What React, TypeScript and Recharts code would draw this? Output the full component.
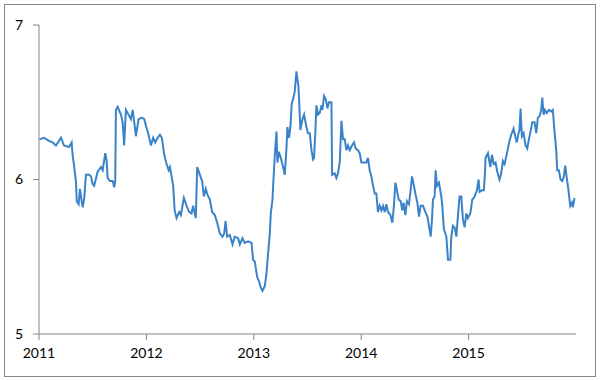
import React from 'react';
import { LineChart, Line, XAxis, YAxis } from 'recharts';

// decimal year of each observation
const dates = [
  2011.003, 2011.047, 2011.093, 2011.127, 2011.158, 2011.205, 2011.233, 2011.279, 2011.304, 2011.313,
  2011.328, 2011.344, 2011.351, 2011.369, 2011.381, 2011.397, 2011.407, 2011.421, 2011.437, 2011.468,
  2011.484, 2011.5, 2011.514, 2011.546, 2011.577, 2011.593, 2011.617, 2011.63, 2011.639, 2011.66,
  2011.686, 2011.7, 2011.71, 2011.716, 2011.732, 2011.763, 2011.779, 2011.793, 2011.809, 2011.834,
  2011.856, 2011.872, 2011.887, 2011.902, 2011.927, 2011.958, 2011.98, 2011.995, 2012.02, 2012.042,
  2012.063, 2012.082, 2012.104, 2012.126, 2012.144, 2012.166, 2012.188, 2012.207, 2012.219, 2012.237,
  2012.249, 2012.263, 2012.281, 2012.305, 2012.321, 2012.349, 2012.374, 2012.398, 2012.42, 2012.435,
  2012.46, 2012.473, 2012.498, 2012.519, 2012.535, 2012.553, 2012.569, 2012.591, 2012.612, 2012.637,
  2012.659, 2012.684, 2012.709, 2012.724, 2012.737, 2012.752, 2012.777, 2012.802, 2012.823, 2012.854,
  2012.87, 2012.895, 2012.916, 2012.947, 2012.979, 2012.993, 2013.009, 2013.031, 2013.049, 2013.065,
  2013.081, 2013.102, 2013.118, 2013.133, 2013.149, 2013.158, 2013.174, 2013.18, 2013.195, 2013.211,
  2013.22, 2013.233, 2013.251, 2013.273, 2013.288, 2013.304, 2013.313, 2013.328, 2013.341, 2013.353,
  2013.366, 2013.381, 2013.397, 2013.416, 2013.434, 2013.453, 2013.468, 2013.49, 2013.505, 2013.521,
  2013.537, 2013.552, 2013.561, 2013.574, 2013.583, 2013.598, 2013.614, 2013.63, 2013.639, 2013.654,
  2013.67, 2013.686, 2013.7, 2013.723, 2013.729, 2013.753, 2013.769, 2013.784, 2013.8, 2013.809,
  2013.816, 2013.831, 2013.847, 2013.862, 2013.877, 2013.893, 2013.914, 2013.933, 2013.949, 2013.97,
  2013.986, 2014.002, 2014.026, 2014.048, 2014.063, 2014.079, 2014.095, 2014.11, 2014.126, 2014.141,
  2014.156, 2014.172, 2014.188, 2014.203, 2014.219, 2014.234, 2014.249, 2014.272, 2014.29, 2014.305,
  2014.318, 2014.333, 2014.349, 2014.367, 2014.383, 2014.395, 2014.411, 2014.426, 2014.445, 2014.46,
  2014.473, 2014.488, 2014.507, 2014.523, 2014.538, 2014.553, 2014.575, 2014.597, 2014.616, 2014.631,
  2014.647, 2014.659, 2014.668, 2014.684, 2014.693, 2014.705, 2014.724, 2014.746, 2014.755, 2014.77,
  2014.793, 2014.808, 2014.83, 2014.839, 2014.854, 2014.87, 2014.886, 2014.9, 2014.916, 2014.932,
  2014.947, 2014.963, 2014.979, 2014.993, 2015.016, 2015.034, 2015.056, 2015.077, 2015.093, 2015.102,
  2015.124, 2015.142, 2015.152, 2015.158, 2015.18, 2015.202, 2015.217, 2015.233, 2015.251, 2015.267,
  2015.288, 2015.304, 2015.319, 2015.335, 2015.351, 2015.366, 2015.381, 2015.397, 2015.419, 2015.434,
  2015.449, 2015.465, 2015.474, 2015.484, 2015.496, 2015.512, 2015.53, 2015.546, 2015.561, 2015.574,
  2015.593, 2015.614, 2015.63, 2015.645, 2015.66, 2015.676, 2015.686, 2015.698, 2015.71, 2015.728,
  2015.747, 2015.769, 2015.784, 2015.8, 2015.816, 2015.825, 2015.84, 2015.856, 2015.872, 2015.887,
  2015.9, 2015.914, 2015.93, 2015.946, 2015.961, 2015.97, 2015.986,
];

const yields = [
  6.26, 6.27, 6.25, 6.24, 6.22, 6.27, 6.22, 6.21, 6.24, 6.16,
  6.08, 5.99, 5.86, 5.84, 5.94, 5.86, 5.82, 5.88, 6.03, 6.03,
  6.02, 5.97, 5.96, 6.05, 6.08, 6.06, 6.17, 6.12, 6.01, 5.99,
  5.99, 5.95, 5.99, 6.45, 6.47, 6.42, 6.37, 6.22, 6.45, 6.42,
  6.39, 6.45, 6.37, 6.28, 6.39, 6.4, 6.39, 6.35, 6.29, 6.22,
  6.27, 6.24, 6.27, 6.29, 6.27, 6.16, 6.1, 6.06, 6.08, 6.01,
  5.96, 5.8, 5.75, 5.79, 5.77, 5.88, 5.83, 5.79, 5.78, 5.83,
  5.75, 6.08, 6.03, 5.99, 5.89, 5.94, 5.9, 5.87, 5.79, 5.77,
  5.72, 5.65, 5.63, 5.65, 5.73, 5.63, 5.64, 5.58, 5.63, 5.62,
  5.58, 5.62, 5.59, 5.6, 5.59, 5.48, 5.47, 5.37, 5.34, 5.3,
  5.28, 5.31, 5.39, 5.52, 5.65, 5.78, 5.87, 5.96, 6.15, 6.31,
  6.11, 6.18, 6.14, 6.08, 6.03, 6.2, 6.34, 6.27, 6.34, 6.49,
  6.52, 6.57, 6.7, 6.6, 6.32, 6.39, 6.42, 6.34, 6.3, 6.3,
  6.19, 6.13, 6.14, 6.32, 6.48, 6.42, 6.43, 6.48, 6.45, 6.54,
  6.52, 6.46, 6.5, 6.5, 6.03, 6.04, 6.01, 6.04, 6.11, 6.26,
  6.38, 6.26, 6.26, 6.19, 6.22, 6.19, 6.22, 6.24, 6.2, 6.19,
  6.17, 6.11, 6.11, 6.11, 6.14, 6.06, 6.02, 5.96, 5.91, 5.91,
  5.79, 5.83, 5.8, 5.83, 5.79, 5.84, 5.79, 5.77, 5.72, 5.83,
  5.98, 5.93, 5.87, 5.86, 5.8, 5.85, 5.77, 5.86, 5.84, 5.93,
  6.02, 5.97, 5.9, 5.85, 5.76, 5.83, 5.83, 5.79, 5.76, 5.7,
  5.63, 5.74, 5.87, 5.89, 6.06, 5.96, 5.98, 5.89, 5.83, 5.68,
  5.63, 5.48, 5.48, 5.63, 5.7, 5.69, 5.63, 5.76, 5.89, 5.89,
  5.74, 5.69, 5.78, 5.75, 5.78, 5.87, 5.89, 5.93, 6.0, 5.92,
  5.93, 5.93, 6.04, 6.14, 6.17, 6.08, 6.16, 6.1, 6.11, 6.05,
  6.0, 6.04, 6.12, 6.1, 6.15, 6.2, 6.25, 6.29, 6.33, 6.28,
  6.24, 6.3, 6.32, 6.46, 6.28, 6.3, 6.22, 6.2, 6.26, 6.3,
  6.37, 6.37, 6.3, 6.4, 6.41, 6.45, 6.53, 6.42, 6.45, 6.43,
  6.45, 6.44, 6.45, 6.31, 6.19, 6.06, 6.06, 6.0, 5.99, 6.02,
  6.09, 6.01, 5.93, 5.83, 5.85, 5.82, 5.88,
];

const yearTicks = [2011, 2012, 2013, 2014, 2015];
const valueTicks = [5, 6, 7];

const data = dates.map((t, i) => ({ t, v: yields[i] }));

const axisColor = '#868686';
const tickStyle = { fill: '#000', fontSize: 14, fontFamily: 'Lato, sans-serif' };

export default function App() {
  return (
    <div style={{ position: 'absolute', left: 0, top: 0, width: 600, height: 381, background: '#fff' }}>
      <div
        style={{
          position: 'absolute',
          left: 4,
          top: 4,
          width: 592,
          height: 373,
          border: `1px solid ${axisColor}`,
          boxSizing: 'border-box',
        }}
      />
      <div style={{ position: 'absolute', left: 0, top: 0 }}>
        <LineChart width={600} height={381} data={data} margin={{ top: 25, right: 24, bottom: 16, left: 0 }}>
          <XAxis
            dataKey="t"
            type="number"
            domain={[2011, 2016]}
            ticks={yearTicks}
            tickFormatter={(v: number) => String(v)}
            stroke={axisColor}
            tickSize={6}
            tickMargin={8}
            height={31}
            tick={tickStyle}
          />
          <YAxis
            domain={[5, 7]}
            ticks={valueTicks}
            stroke={axisColor}
            tickSize={6}
            tickMargin={10}
            width={39}
            tick={tickStyle}
          />
          <Line
            dataKey="v"
            type="linear"
            stroke="#3b83c8"
            strokeWidth={2}
            dot={false}
            isAnimationActive={false}
          />
        </LineChart>
      </div>
    </div>
  );
}
